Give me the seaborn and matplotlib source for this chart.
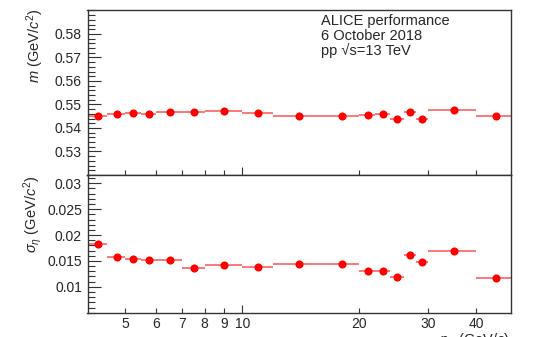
import numpy as np
import pandas as pd
import seaborn as sns
import matplotlib
matplotlib.use("Agg")
import matplotlib.pyplot as plt

# ---- data ----
bin_lo = [4, 4.5, 5, 5.5, 6, 7, 8, 10, 12, 16, 20, 22, 24, 26, 28, 30, 40]
bin_hi = [4.5, 5, 5.5, 6, 7, 8, 10, 12, 16, 20, 22, 24, 26, 28, 30, 40, 50]
mass = [0.5450, 0.5461, 0.5464, 0.5461, 0.5469, 0.5469, 0.5472, 0.5464, 0.5453,
        0.5451, 0.5454, 0.5461, 0.5440, 0.5466, 0.5440, 0.5478, 0.5451]
sigma = [0.01823, 0.01577, 0.01533, 0.01514, 0.01514, 0.01372, 0.01417, 0.01378,
         0.01436, 0.01436, 0.01307, 0.01307, 0.01190, 0.01624, 0.01481, 0.01693, 0.01171]
x_tick_vals = [5, 6, 7, 8, 9, 20, 30, 40]
x_tick_labels = ["5", "6", "7", "8", "9", "20", "30", "40"]
m_ticks = [0.53, 0.54, 0.55, 0.56, 0.57, 0.58]
s_ticks = [0.01, 0.015, 0.02, 0.025, 0.03]

df = pd.DataFrame({"lo": bin_lo, "hi": bin_hi, "mass": mass, "sigma": sigma})
df["pt"] = (df["lo"] + df["hi"]) / 2

sns.set_theme(style="white")
plt.rcParams["font.family"] = ["Liberation Sans", "DejaVu Sans"]
plt.rcParams["mathtext.fontset"] = "custom"
plt.rcParams["mathtext.rm"] = "Liberation Sans"
plt.rcParams["mathtext.it"] = "Liberation Sans:italic"
plt.rcParams["mathtext.bf"] = "Liberation Sans:bold"

fig = plt.figure(figsize=(5.35, 3.37), dpi=100)
L, R = 87.5 / 535, 510.7 / 535
top_t, mid, bot = 1 - 9.5 / 337, 1 - 175 / 337, 1 - 312.7 / 337
ax1 = fig.add_axes([L, mid, R - L, top_t - mid])
ax2 = fig.add_axes([L, bot, R - L, mid - bot])

red = "#ff0000"
barc = "#ff6060"

for ax, col, ylim, yt, minor_step in [
    (ax1, "mass", (0.5210, 0.5904), m_ticks, 0.002),
    (ax2, "sigma", (0.0050, 0.0316), s_ticks, 0.001),
]:
    ax.hlines(df[col], df["lo"], df["hi"], color=barc, lw=1.2, zorder=2)
    sns.scatterplot(data=df, x="pt", y=col, ax=ax, color=red, s=34,
                    edgecolor=red, linewidth=0, zorder=3, legend=False)
    ax.set_xscale("log")
    ax.set_xlim(4, 49)
    ax.set_ylim(*ylim)
    ax.set_yticks(yt)
    mn = np.arange(ylim[0] - ylim[0] % minor_step, ylim[1], minor_step)
    ax.set_yticks(mn, minor=True)
    ax.set_xticks([10])
    ax.set_xticks(x_tick_vals, minor=True)
    ax.set_xlabel("")
    ax.set_ylabel("")
    ax.tick_params(axis="y", which="major", direction="in", length=9, width=0.8,
                   labelsize=10, pad=4, color="#333333", left=True, right=False)
    ax.tick_params(axis="y", which="minor", direction="in", length=5, width=0.8,
                   color="#333333", left=True, right=False)
    ax.tick_params(axis="x", which="major", direction="in", length=6, width=0.8,
                   labelsize=10, pad=3, color="#333333", bottom=True, top=False)
    ax.tick_params(axis="x", which="minor", direction="in", length=3.5, width=0.8,
                   labelsize=10, pad=3, color="#333333", bottom=True, top=False)
    for sp in ax.spines.values():
        sp.set_color("#333333")
        sp.set_linewidth(1.0)
    ax.grid(False)

ax1.set_yticklabels(["0.53", "0.54", "0.55", "0.56", "0.57", "0.58"])
ax1.set_xticklabels([])
ax1.set_xticklabels([], minor=True)
ax2.set_yticklabels(["0.01", "0.015", "0.02", "0.025", "0.03"])
ax2.set_xticklabels(["10"])
ax2.set_xticklabels(x_tick_labels, minor=True)

fig.text(35 / 535, 1 - 9 / 337, r"$m$ (GeV/$c^{2}$)", rotation=90,
         ha="center", va="top", fontsize=10.5)
fig.text(33 / 535, 1 - 176 / 337, r"$\sigma_{\eta}$ (GeV/$c^{2}$)", rotation=90,
         ha="center", va="top", fontsize=10.5)
fig.text(510 / 535, 6 / 337, r"$p_{\rm T}$ (GeV/$c$)", ha="right", va="top",
         fontsize=10.5)

ax1.text(321 / 535, 1 - 14 / 337, "ALICE performance\n6 October 2018\npp \u221as=13 TeV",
         transform=fig.transFigure, ha="left", va="top", fontsize=10.5,
         linespacing=1.05)

fig.savefig("out.png", dpi=100, facecolor="white")
